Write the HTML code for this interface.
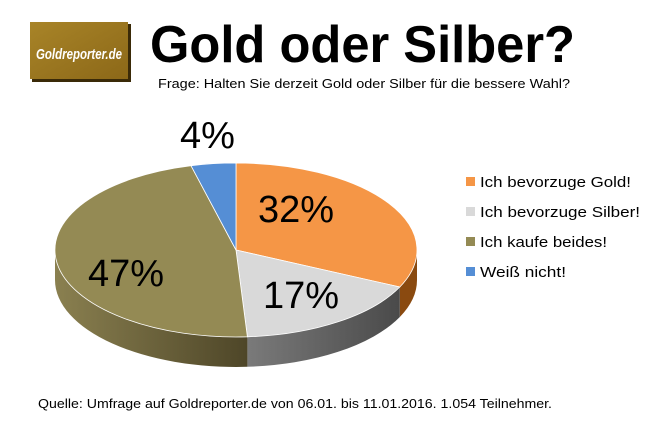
<!DOCTYPE html>
<html><head><meta charset="utf-8"><style>
html,body{margin:0;padding:0;background:#fff;}
svg{display:block;font-family:"Liberation Sans",sans-serif;}
</style></head><body>
<svg width="655" height="426" viewBox="0 0 655 426" xmlns="http://www.w3.org/2000/svg">
<defs>
<linearGradient id="lg" x1="0" y1="0" x2="1" y2="1"><stop offset="0" stop-color="#a88428"/><stop offset="1" stop-color="#8c6818"/></linearGradient>
<linearGradient id="os" x1="0" y1="0" x2="1" y2="0"><stop offset="0" stop-color="#8a8050"/><stop offset="1" stop-color="#4e4628"/></linearGradient>
<linearGradient id="gs" x1="0" y1="0" x2="1" y2="0"><stop offset="0" stop-color="#7a7a7a"/><stop offset="1" stop-color="#4a4a4a"/></linearGradient>
</defs>
<rect x="0" y="0" width="655" height="426" fill="#fff"/>
<rect x="32" y="24" width="99" height="58" fill="#3a2a08"/>
<rect x="30" y="22" width="98" height="57" fill="url(#lg)"/>
<text x="36" y="59" font-size="15" font-weight="bold" font-style="italic" fill="#fff" textLength="86" lengthAdjust="spacingAndGlyphs">Goldreporter.de</text>
<text x="150" y="62" font-size="52" font-weight="bold" fill="#000" textLength="425" lengthAdjust="spacingAndGlyphs">Gold oder Silber?</text>
<text x="158" y="88" font-size="13" fill="#000" textLength="412" lengthAdjust="spacingAndGlyphs">Frage: Halten Sie derzeit Gold oder Silber für die bessere Wahl?</text>
<!-- sides -->
<path d="M417,250 A181,87 0 0 1 399.8,287 L399.8,317 A181,87 0 0 0 417,280 Z" fill="#8a4a10"/>
<path d="M399.8,287 A181,87 0 0 1 247.4,336.8 L247.4,366.8 A181,87 0 0 0 399.8,317 Z" fill="url(#gs)"/>
<path d="M247.4,336.8 A181,87 0 0 1 55,250 L55,280 A181,87 0 0 0 247.4,366.8 Z" fill="url(#os)"/>
<!-- tops -->
<path d="M236,250 L236,163 A181,87 0 0 1 399.8,287 Z" fill="#f59646" stroke="#fff" stroke-width="0.8"/>
<path d="M236,250 L399.8,287 A181,87 0 0 1 247.4,336.8 Z" fill="#d9d9d9" stroke="#fff" stroke-width="0.8"/>
<path d="M236,250 L247.4,336.8 A181,87 0 0 1 191,165.7 Z" fill="#948a54" stroke="#fff" stroke-width="0.8"/>
<path d="M236,250 L191,165.7 A181,87 0 0 1 236,163 Z" fill="#558ed5" stroke="#fff" stroke-width="0.8"/>
<g font-size="38" fill="#000">
<text x="180" y="148">4%</text>
<text x="258" y="222">32%</text>
<text x="263" y="308">17%</text>
<text x="88" y="286">47%</text>
</g>
<rect x="466" y="177" width="9" height="9" fill="#f59646"/>
<rect x="466" y="207" width="9" height="9" fill="#d9d9d9"/>
<rect x="466" y="237" width="9" height="9" fill="#948a54"/>
<rect x="466" y="267" width="9" height="9" fill="#558ed5"/>
<g font-size="15" fill="#000">
<text x="480" y="187" textLength="151" lengthAdjust="spacingAndGlyphs">Ich bevorzuge Gold!</text>
<text x="480" y="217" textLength="160" lengthAdjust="spacingAndGlyphs">Ich bevorzuge Silber!</text>
<text x="480" y="247" textLength="127" lengthAdjust="spacingAndGlyphs">Ich kaufe beides!</text>
<text x="480" y="277" textLength="86" lengthAdjust="spacingAndGlyphs">Weiß nicht!</text>
</g>
<text x="38" y="408" font-size="13" fill="#000" textLength="514" lengthAdjust="spacingAndGlyphs">Quelle: Umfrage auf Goldreporter.de von 06.01. bis 11.01.2016.  1.054  Teilnehmer.</text>
</svg>
</body></html>
